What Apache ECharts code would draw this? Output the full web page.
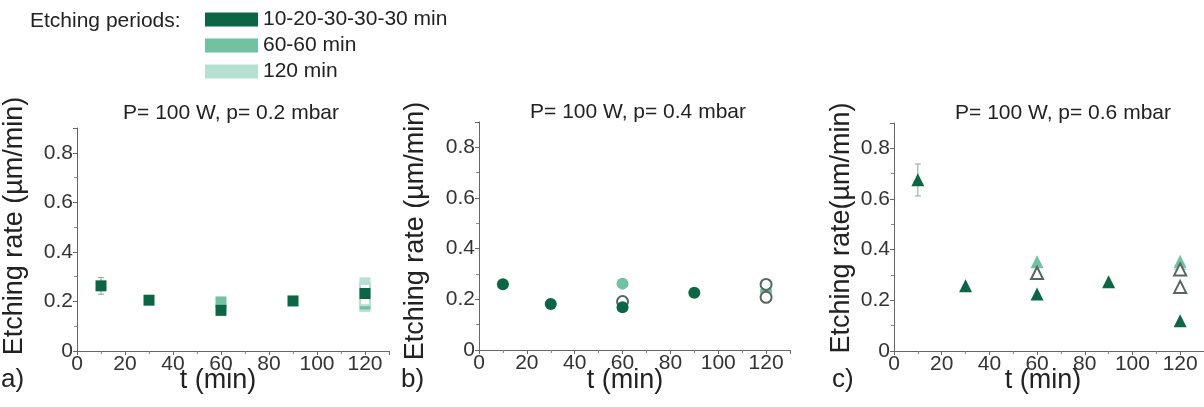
<!DOCTYPE html>
<html><head><meta charset="utf-8">
<script src="https://cdn.jsdelivr.net/npm/echarts@6/dist/echarts.min.js"></script>
<style>html,body{margin:0;padding:0;background:#fff}#c{width:1204px;height:407px}</style>
</head><body><div id="c"></div>
<script>
// ---- data ----
const seriesNames = ['10-20-30-30-30 min', '60-60 min', '120 min'];
const xTicks = [0, 20, 40, 60, 80, 100, 120];
const yTicks = [0, 0.2, 0.4, 0.6, 0.8];
const panelTitles = ['P= 100 W, p= 0.2 mbar', 'P= 100 W, p= 0.4 mbar', 'P= 100 W, p= 0.6 mbar'];
const yNames = ['Etching rate (\u00b5m/min)', 'Etching rate (\u00b5m/min)', 'Etching rate(\u00b5m/min)'];
const panelLetters = ['a)', 'b)', 'c)'];

// panel a (squares)
const aDark   = [[10, 0.263], [30, 0.205], [60, 0.164], [90, 0.202], [120, 0.232]];
const aMedium = [[60, 0.198], [120, 0.19]];
const aLight  = [[120, 0.275], [120, 0.18]];
const aOpen   = [[120, 0.25], [120, 0.205]];
const aErr    = [[10, 0.229, 0.296], [120, 0.17, 0.29]];
// panel b (circles)
const bDark   = [[10, 0.26], [30, 0.182], [60, 0.169], [90, 0.226]];
const bMedium = [[60, 0.262], [120, 0.232]];
const bLight  = [[120, 0.23]];
const bOpen   = [[60, 0.191], [120, 0.259], [120, 0.208]];
const bErr    = [[60, 0.175, 0.205]];
// panel c (triangles)
const cDark   = [[10, 0.676], [30, 0.258], [60, 0.225], [90, 0.273], [120, 0.119]];
const cMedium = [[60, 0.352], [120, 0.354]];
const cLight  = [[120, 0.345]];
const cOpen   = [[60, 0.308], [120, 0.253], [120, 0.322]];
const cErr    = [[10, 0.612, 0.738], [60, 0.285, 0.33], [120, 0.31, 0.335]];

// ---- styling ----
const FONT = '"Liberation Sans", Arial, sans-serif';
const DARK = '#0c6645', MED = '#72c1a1', LIGHT = '#b6e1d2', OPEN = '#55675f';
const grids = [
  {left: 77, top: 128, width: 312, height: 223},
  {left: 479, top: 122, width: 311, height: 228},
  {left: 894, top: 123, width: 311, height: 228}
];
const panels = [
  {dark: aDark, med: aMedium, light: aLight, open: aOpen, err: aErr, sym: 'rect', size: 11, openSym: 'emptyRect', openColor: LIGHT},
  {dark: bDark, med: bMedium, light: bLight, open: bOpen, err: bErr, sym: 'circle', size: 12, openSym: 'emptyCircle', openColor: OPEN},
  {dark: cDark, med: cMedium, light: cLight, open: cOpen, err: cErr, sym: 'triangle', size: 13, openSym: 'emptyTriangle', openColor: OPEN}
];

const xAxes = [], yAxes = [], series = [], graphics = [];
panels.forEach((p, i) => {
  xAxes.push({
    gridIndex: i, type: 'value', min: 0, max: 130, interval: 20,
    axisLine: {lineStyle: {color: '#666', width: 1}},
    axisTick: {show: true, length: 4, lineStyle: {color: '#666'}},
    minorTick: {show: true, splitNumber: 2, length: 3, lineStyle: {color: '#888'}},
    splitLine: {show: false},
    axisLabel: {color: '#333', fontSize: 21, fontFamily: FONT, margin: 3, showMaxLabel: false,
      formatter: v => xTicks.indexOf(v) >= 0 ? String(v) : ''}
  });
  yAxes.push({
    gridIndex: i, type: 'value', min: 0, max: 0.9, interval: 0.2,
    axisLine: {show: true, lineStyle: {color: '#666', width: 1}},
    axisTick: {show: true, length: 4, lineStyle: {color: '#666'}},
    minorTick: {show: true, splitNumber: 2, length: 3, lineStyle: {color: '#888'}},
    splitLine: {show: false},
    axisLabel: {color: '#333', fontSize: 21, fontFamily: FONT, margin: 4, showMaxLabel: false,
      formatter: v => yTicks.indexOf(v) >= 0 ? String(v) : ''}
  });
  series.push({
    type: 'custom', xAxisIndex: i, yAxisIndex: i, data: p.err, z: 1, silent: true,
    renderItem: (params, api) => {
      const top = api.coord([api.value(0), api.value(2)]);
      const bot = api.coord([api.value(0), api.value(1)]);
      return {type: 'group', children: [
        {type: 'line', shape: {x1: top[0], y1: top[1], x2: bot[0], y2: bot[1]}, style: {stroke: '#8aa598', lineWidth: 1}},
        {type: 'line', shape: {x1: top[0] - 3, y1: top[1], x2: top[0] + 3, y2: top[1]}, style: {stroke: '#8aa598', lineWidth: 1}},
        {type: 'line', shape: {x1: bot[0] - 3, y1: bot[1], x2: bot[0] + 3, y2: bot[1]}, style: {stroke: '#8aa598', lineWidth: 1}}
      ]};
    }
  });
  series.push({name: seriesNames[2], type: 'scatter', xAxisIndex: i, yAxisIndex: i, data: p.light,
    symbol: p.sym, symbolSize: p.size, itemStyle: {color: LIGHT, opacity: 1}, z: 2});
  series.push({name: seriesNames[1], type: 'scatter', xAxisIndex: i, yAxisIndex: i, data: p.med,
    symbol: p.sym, symbolSize: p.size, itemStyle: {color: MED, opacity: 1}, z: 3});
  series.push({type: 'scatter', xAxisIndex: i, yAxisIndex: i, data: p.open,
    symbol: p.openSym, symbolSize: p.size - 1, itemStyle: {color: p.openColor, borderWidth: 1.2, opacity: 1}, z: 4});
  series.push({name: seriesNames[0], type: 'scatter', xAxisIndex: i, yAxisIndex: i, data: p.dark,
    symbol: p.sym, symbolSize: p.size, itemStyle: {color: DARK, opacity: 1}, z: 5});
});

const titleCenters = [[231, 113], [638, 112], [1063, 113]];
const yNameCenters = [[15, 226], [416, 231], [842, 228]];
const xNameCenters = [[218, 381], [625, 381], [1043, 381]];
const letterPos = [[1, 380], [401, 380], [832, 380]];
for (let i = 0; i < 3; i++) {
  graphics.push({type: 'text', x: titleCenters[i][0], y: titleCenters[i][1],
    style: {text: panelTitles[i], fill: '#222', font: '21px ' + FONT, textAlign: 'center', textVerticalAlign: 'middle'}});
  graphics.push({type: 'text', x: yNameCenters[i][0], y: yNameCenters[i][1], rotation: Math.PI / 2,
    style: {text: yNames[i], fill: '#222', font: '27px ' + FONT, textAlign: 'center', textVerticalAlign: 'middle'}});
  graphics.push({type: 'text', x: xNameCenters[i][0], y: xNameCenters[i][1],
    style: {text: 't (min)', fill: '#222', font: '27px ' + FONT, textAlign: 'center', textVerticalAlign: 'middle'}});
  graphics.push({type: 'text', x: letterPos[i][0], y: letterPos[i][1],
    style: {text: panelLetters[i], fill: '#222', font: '26px ' + FONT, textAlign: 'left', textVerticalAlign: 'middle'}});
}
graphics.push({type: 'text', x: 30, y: 21,
  style: {text: 'Etching periods:', fill: '#222', font: '21px ' + FONT, textAlign: 'left', textVerticalAlign: 'middle'}});

const chart = echarts.init(document.getElementById('c'), null, {renderer: 'canvas'});
chart.setOption({
  backgroundColor: '#fff',
  animation: false,
  grid: grids,
  xAxis: xAxes,
  yAxis: yAxes,
  legend: {
    data: seriesNames, orient: 'vertical', left: 205, top: 9, icon: 'rect',
    itemWidth: 53, itemHeight: 14, itemGap: 5, padding: 0,
    textStyle: {fontSize: 21, fontFamily: FONT, color: '#222', padding: [0, 0, 0, 0]},
    selectedMode: false
  },
  graphic: graphics,
  series: series
});
</script></body></html>
